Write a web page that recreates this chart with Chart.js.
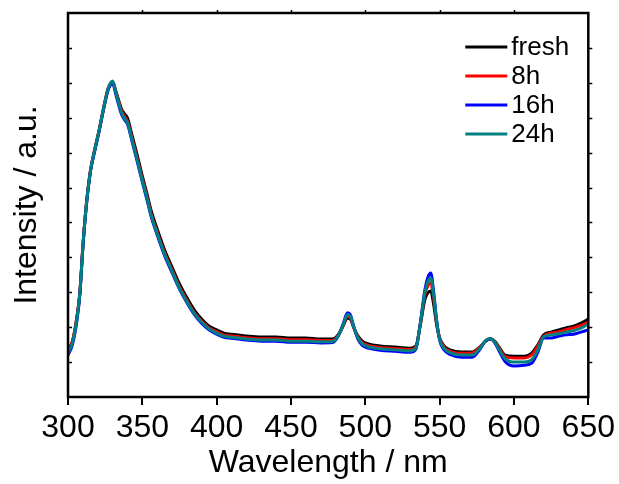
<!DOCTYPE html>
<html>
<head>
<meta charset="utf-8">
<script src="https://cdn.jsdelivr.net/npm/chart.js@4.4.0/dist/chart.umd.min.js"></script>
<style>
  html, body { margin: 0; padding: 0; background: #fff; }
  #spectra { display: block; }
</style>
</head>
<body>
<canvas id="spectra" width="619" height="484"></canvas>
<script>
// PL spectra (y in arbitrary units, 0..11 = one tick each)
var wavelengths = [300,303,306,308,310,312,315,318,321,324,327,329,330,332,334,336,338,340,343,346,
  350,353,356,360,365,370,375,380,385,390,395,400,405,410,420,430,440,450,460,470,
  478,482,485,488,490,492,495,498,502,510,520,530,534,537,540,542,544,546,548,550,
  553,557,565,572,577,581,584,587,590,594,600,607,612,616,620,625,630,635,640,645,650];

var fresh = [1.37,1.6,2.3,3.0,4.3,5.35,6.45,7.08,7.65,8.28,
  8.82,8.99,9.02,8.79,8.51,8.25,8.11,7.99,7.51,7.02,
  6.33,5.84,5.33,4.81,4.21,3.72,3.24,2.84,2.49,2.23,
  2.03,1.92,1.83,1.8,1.75,1.72,1.72,1.69,1.69,1.66,
  1.66,1.8,2.03,2.26,2.23,2.01,1.75,1.6,1.52,1.46,
  1.43,1.4,1.46,2.06,2.78,2.98,3.04,2.64,2.06,1.69,
  1.46,1.35,1.29,1.29,1.43,1.6,1.66,1.6,1.43,1.2,
  1.17,1.17,1.26,1.49,1.78,1.86,1.92,1.98,2.03,2.12,2.23];

var h8 = [1.33,1.6,2.28,3.0,4.32,5.38,6.47,7.1,7.66,8.3,
  8.85,9.0,9.02,8.77,8.47,8.2,8.03,7.9,7.42,6.92,
  6.24,5.75,5.24,4.73,4.13,3.64,3.16,2.77,2.42,2.17,
  1.98,1.87,1.78,1.75,1.7,1.67,1.67,1.64,1.64,1.62,
  1.62,1.78,2.04,2.31,2.27,2.02,1.72,1.56,1.48,1.42,
  1.39,1.36,1.43,2.09,2.92,3.18,3.27,2.83,2.14,1.68,
  1.43,1.31,1.25,1.26,1.42,1.61,1.67,1.59,1.4,1.16,
  1.12,1.12,1.21,1.45,1.74,1.83,1.86,1.93,1.98,2.05,2.14];

var h16 = [1.2,1.5,2.18,2.94,4.28,5.33,6.42,7.05,7.62,8.25,
  8.8,8.97,9.0,8.7,8.38,8.1,7.94,7.82,7.34,6.84,
  6.16,5.67,5.16,4.64,4.05,3.56,3.09,2.7,2.36,2.11,
  1.92,1.8,1.71,1.68,1.63,1.6,1.6,1.57,1.57,1.55,
  1.56,1.76,2.08,2.41,2.35,2.05,1.66,1.48,1.4,1.34,
  1.31,1.28,1.37,2.12,3.05,3.42,3.55,3.0,2.18,1.62,
  1.35,1.22,1.14,1.14,1.36,1.61,1.67,1.56,1.32,1.02,
  0.89,0.91,0.97,1.28,1.69,1.69,1.74,1.78,1.8,1.86,1.92];

var h24 = [1.27,1.55,2.24,2.98,4.3,5.36,6.45,7.08,7.65,8.28,
  8.84,9.02,9.05,8.76,8.43,8.15,7.98,7.86,7.38,6.88,
  6.2,5.71,5.2,4.68,4.09,3.6,3.12,2.73,2.39,2.14,
  1.95,1.83,1.74,1.71,1.66,1.63,1.63,1.6,1.6,1.58,
  1.59,1.77,2.06,2.36,2.31,2.04,1.69,1.52,1.44,1.38,
  1.35,1.32,1.4,2.1,2.98,3.3,3.41,2.92,2.16,1.65,
  1.39,1.27,1.2,1.2,1.39,1.62,1.67,1.58,1.36,1.1,
  1.0,1.0,1.07,1.35,1.72,1.78,1.81,1.86,1.9,1.97,2.09];

var seriesNames = ['fresh', '8h', '16h', '24h'];
var seriesData = [fresh, h8, h16, h24];
var seriesColors = ['#000000', '#ff0000', '#0000ff', '#008080'];

var FONT = "'Liberation Sans', Arial, sans-serif";

function toPoints(ys) {
  return ys.map(function(y, i) { return { x: wavelengths[i], y: y }; });
}

var datasets = seriesData.map(function(ys, i) {
  return {
    label: seriesNames[i],
    data: toPoints(ys),
    borderColor: seriesColors[i],
    backgroundColor: seriesColors[i],
    borderWidth: 3,
    pointRadius: 0,
    cubicInterpolationMode: 'monotone',
    order: seriesData.length - i   // later series on top
  };
});

// box around the plot, small ticks, hand drawn legend
var framePlugin = {
  id: 'frame',
  afterDraw: function(chart) {
    var ctx = chart.ctx, a = chart.chartArea;
    var xs = chart.scales.x, ys = chart.scales.y;
    ctx.save();
    ctx.strokeStyle = '#000';
    ctx.lineWidth = 2.5;
    ctx.strokeRect(a.left, a.top, a.right - a.left, a.bottom - a.top);
    ctx.lineWidth = 1.5;
    ctx.beginPath();
    for (var v = 1; v < 11; v++) {
      var py = Math.round(ys.getPixelForValue(v)) + 0.5;
      ctx.moveTo(a.left, py); ctx.lineTo(a.left + 4, py);
      ctx.moveTo(a.right, py); ctx.lineTo(a.right + 4, py);
    }
    for (var w = 350; w < 650; w += 50) {
      var px = Math.round(xs.getPixelForValue(w)) + 0.5;
      ctx.moveTo(px, a.top); ctx.lineTo(px, a.top - 3);
    }
    ctx.stroke();

    // legend
    ctx.font = '26px ' + FONT;
    ctx.textBaseline = 'middle';
    ctx.textAlign = 'left';
    for (var i = 0; i < seriesNames.length; i++) {
      var ly = 47 + i * 29;
      ctx.strokeStyle = seriesColors[i];
      ctx.lineWidth = 3;
      ctx.beginPath();
      ctx.moveTo(a.right - 123, ly);
      ctx.lineTo(a.right - 81, ly);
      ctx.stroke();
      ctx.fillStyle = '#000';
      ctx.fillText(seriesNames[i], a.right - 77, ly + 1);
    }
    ctx.restore();
  }
};

var ctx = document.getElementById('spectra').getContext('2d');
new Chart(ctx, {
  type: 'line',
  data: { datasets: datasets },
  options: {
    responsive: false,
    animation: false,
    devicePixelRatio: 1,
    layout: { padding: { top: 13, right: 30, left: 0, bottom: 0 } },
    plugins: {
      legend: { display: false },
      tooltip: { enabled: false }
    },
    scales: {
      x: {
        type: 'linear',
        min: 300, max: 650,
        afterFit: function(s) { s.height = 87; },
        border: { display: false },
        grid: { drawOnChartArea: false, drawTicks: true, tickLength: 8, color: '#000', lineWidth: 2 },
        ticks: { stepSize: 50, color: '#000', padding: 4, maxRotation: 0, font: { family: FONT, size: 32 } },
        title: { display: true, text: 'Wavelength / nm', color: '#000', padding: { top: 0, bottom: 2 },
          font: { family: FONT, size: 32 } }
      },
      y: {
        min: 0, max: 11,
        afterFit: function(s) { s.width = 68; },
        border: { display: false },
        grid: { display: false },
        ticks: { display: false, stepSize: 1 },
        title: { display: true, text: 'Intensity / a.u.', color: '#000', padding: { top: 8, bottom: 0 },
          font: { family: FONT, size: 32 } }
      }
    }
  },
  plugins: [framePlugin]
});
</script>
</body>
</html>
